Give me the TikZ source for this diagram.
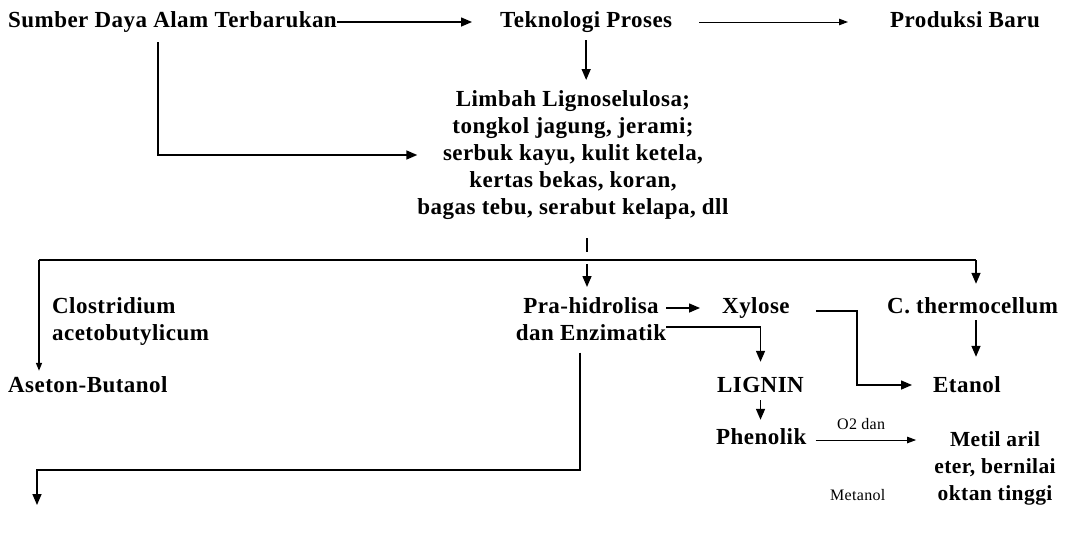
\documentclass[tikz,border=0pt]{standalone}
\usepackage{fontspec}
\setmainfont{Liberation Serif}[LetterSpace=2]
\usetikzlibrary{arrows.meta}
\begin{document}
\begin{tikzpicture}[x=1pt,y=-1pt,
  lbl/.style={inner sep=0pt, anchor=base west, font=\bfseries\fontsize{23}{27}\selectfont, text height=15pt, text depth=5pt},
  blk/.style={inner sep=0pt, font=\bfseries\fontsize{23}{27}\selectfont},
  small/.style={inner sep=0pt, anchor=base west, font=\fontsize{16}{18}\selectfont},
  ln/.style={line width=1.5pt},
  arr/.style={ln, -{Triangle[length=11pt,width=9pt]}},
  thinarr/.style={line width=1pt, -{Triangle[length=9pt,width=6.5pt]}},
]
\fill[white] (0,0) rectangle (1084,533);
\useasboundingbox (0,0) rectangle (1084,533);

% top row
\node[lbl] (src) at (8,27) {Sumber Daya Alam Terbarukan};
\node[lbl] (tek) at (500,27) {Teknologi Proses};
\node[lbl] (prod) at (890,27) {Produksi Baru};

% waste block
\node[blk, anchor=north, align=center] (limbah) at (573,90)
  {Limbah Lignoselulosa;\\tongkol jagung, jerami;\\serbuk kayu, kulit ketela,\\kertas bekas, koran,\\bagas tebu, serabut kelapa, dll};

% middle row
\node[blk, anchor=north west, align=left] (clos) at (52,297) {Clostridium\\acetobutylicum};
\node[blk, anchor=north, align=center] (pra) at (591,297) {Pra-hidrolisa\\dan Enzimatik};
\node[lbl] (xyl) at (722,313) {Xylose};
\node[lbl] (cth) at (887,313) {C. thermocellum};

% products
\node[lbl] (ase) at (8,392) {Aseton-Butanol};
\node[lbl] (lig) at (717,392) {LIGNIN};
\node[lbl] (eta) at (933,392) {Etanol};
\node[lbl] (phe) at (716,444) {Phenolik};
\node[blk, anchor=north, align=center, font=\bfseries\fontsize{21.5}{27}\selectfont] (met) at (995,431)
  {Metil aril\\eter, bernilai\\oktan tinggi};
\node[small] (o2) at (837,429) {O2 dan};
\node[small] (mtn) at (830,500) {Metanol};

% junction points
\coordinate (lcorner) at (158,155);
\coordinate (busL) at (39,260);
\coordinate (busM) at (587,260);
\coordinate (busR) at (976,260);
\coordinate (xbend) at (857,311);
\coordinate (drop) at (580,470);
\coordinate (outend) at (37,505);

% connectors
\draw[arr, shorten >=28pt] (src.east) -- (tek.west);
\draw[thinarr, shorten <=27pt, shorten >=42pt] (tek.east) -- (prod.west);
\draw[arr, shorten <=8pt, shorten >=10pt] (tek.south) -- (tek.south |- limbah.north);
\draw[arr, shorten <=10pt] (src.south -| lcorner) -- (lcorner) -- (lcorner -| limbah.west);

\draw[ln] ([yshift=22pt]busM) -- ([yshift=8pt]busM);
\draw[ln] (busL) -- (busR);
\draw[ln, -{Triangle[length=8pt,width=6pt]}, shorten >=6pt] (busL) -- (busL |- ase.north);
\draw[arr, shorten >=10pt] ([yshift=-4pt]busM) -- (busM |- pra.north);
\draw[arr, shorten >=14pt] (busR) -- (busR |- cth.north);
\draw[arr, shorten <=2pt, shorten >=20pt] (cth.south -| busR) -- (eta.north -| busR);

\draw[arr, shorten >=22pt] (xyl.west -| pra.east) -- (xyl.west);
\draw[arr, shorten >=15pt] ([yshift=-8pt]pra.east) -| (lig.north);
\draw[arr, shorten <=26pt, shorten >=21pt] ([yshift=-3pt]xyl.east) -- ([yshift=-3pt]xyl.east -| xbend) |- ([yshift=2pt]eta.west);
\draw[arr, shorten <=3pt, shorten >=9pt] (lig.south) -- (lig.south |- phe.north);
\draw[thinarr, shorten <=9pt, shorten >=18pt] ([yshift=-1pt]phe.east) -- ([yshift=-1pt]phe.east -| met.west);
\draw[arr] ([yshift=-12pt]pra.south -| drop) -- (drop) -| (outend);
\end{tikzpicture}
\end{document}
